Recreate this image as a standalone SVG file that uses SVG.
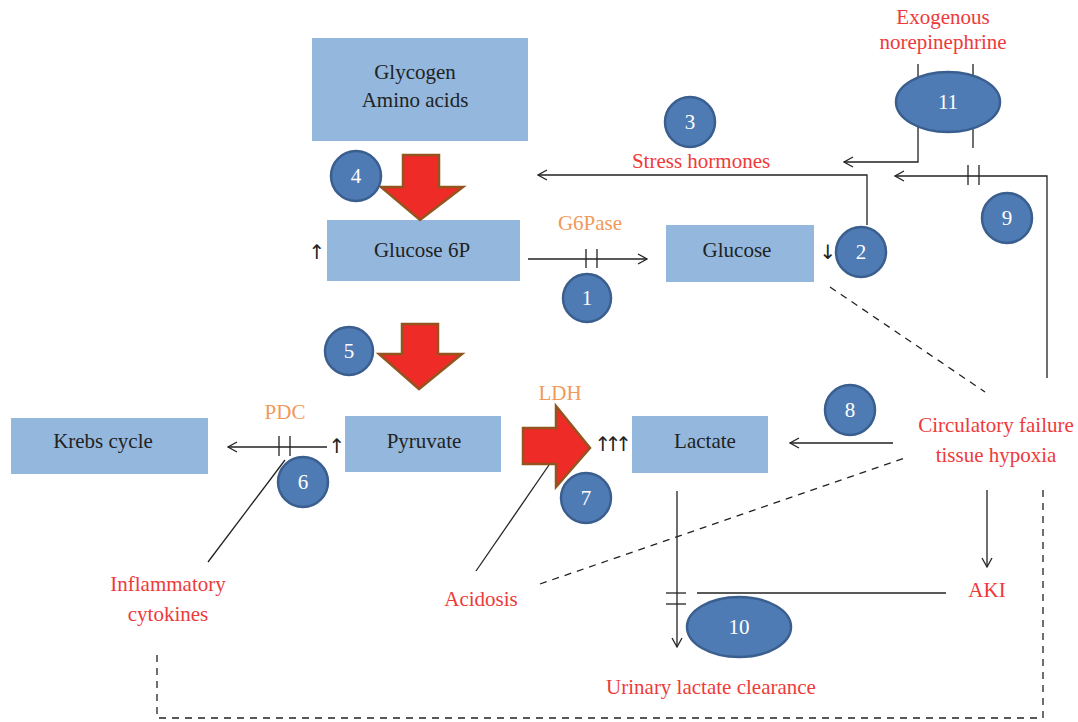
<svg xmlns="http://www.w3.org/2000/svg" width="1078" height="722" viewBox="0 0 1078 722">
<defs>
<marker id="ah" markerWidth="12" markerHeight="12" refX="10" refY="6" orient="auto" markerUnits="userSpaceOnUse">
<path d="M1,1 L10,6 L1,11" fill="none" stroke="#222" stroke-width="1.3"/>
</marker>
<style>
.box{fill:#94b8dd}
.t{font-family:"Liberation Serif",serif;font-size:21px;fill:#222;text-anchor:middle}
.a{font-family:"DejaVu Sans",sans-serif;font-size:20px;fill:#222;text-anchor:middle}
.r{font-family:"Liberation Serif",serif;font-size:21px;fill:#ee3a3a;text-anchor:middle}
.o{font-family:"Liberation Serif",serif;font-size:21px;fill:#f2995a;text-anchor:middle}
.n{font-family:"Liberation Serif",serif;font-size:21px;fill:#fff;text-anchor:middle}
.c{fill:#4f7bb4;stroke:#3a5f8f;stroke-width:2.5}
.red{fill:#ee2b27;stroke:#94541f;stroke-width:2.5}
.l{fill:none;stroke:#222;stroke-width:1.3}
.d{fill:none;stroke:#222;stroke-width:1.3;stroke-dasharray:7,6}
</style>
</defs>
<rect width="1078" height="722" fill="#fff"/>

<g id="connectors">
<line class="l" x1="528" y1="259" x2="647" y2="259" marker-end="url(#ah)"/>
<line class="l" x1="586" y1="249" x2="586" y2="268"/>
<line class="l" x1="597" y1="249" x2="597" y2="268"/>
<polyline class="l" points="867,225 867,175 538,175" marker-end="url(#ah)"/>
<line class="l" x1="918" y1="64" x2="918" y2="78"/>
<line class="l" x1="973" y1="64" x2="973" y2="78"/>
<polyline class="l" points="918,127 918,162 844,162" marker-end="url(#ah)"/>
<line class="l" x1="973" y1="128" x2="973" y2="148"/>
<polyline class="l" points="1047,378 1047,176 895,176" marker-end="url(#ah)"/>
<line class="l" x1="968" y1="165" x2="968" y2="185"/>
<line class="l" x1="979" y1="165" x2="979" y2="185"/>
<line class="l" x1="893" y1="443" x2="790" y2="443" marker-end="url(#ah)"/>
<line class="d" x1="830" y1="287" x2="985" y2="392"/>
<line class="l" x1="987" y1="490" x2="987" y2="567" marker-end="url(#ah)"/>
<polyline class="d" points="1043,490 1043,718 157,718 157,650"/>
<line class="l" x1="677" y1="491" x2="677" y2="647" marker-end="url(#ah)"/>
<line class="l" x1="666" y1="593" x2="686" y2="593"/>
<line class="l" x1="666" y1="604" x2="686" y2="604"/>
<line class="l" x1="697" y1="593" x2="946" y2="593"/>
<line class="d" x1="540" y1="584" x2="905" y2="458"/>
<line class="l" x1="476" y1="571" x2="549" y2="465"/>
<line class="l" x1="208" y1="562" x2="285" y2="460"/>
<line class="l" x1="327" y1="447" x2="228" y2="447" marker-end="url(#ah)"/>
<line class="l" x1="279" y1="436" x2="279" y2="456"/>
<line class="l" x1="290" y1="436" x2="290" y2="456"/>
</g>

<g id="glycogen"><rect class="box" x="312" y="38" width="216" height="103"/><text class="t" x="415" y="79">Glycogen</text><text class="t" x="415" y="107">Amino acids</text></g>
<g id="glucose6p"><rect class="box" x="327" y="220" width="193" height="61"/><text class="t" x="422" y="257">Glucose 6P</text></g>
<g id="glucose"><rect class="box" x="666" y="225" width="148" height="57"/><text class="t" x="737" y="257">Glucose</text></g>
<g id="krebs"><rect class="box" x="11" y="418" width="197" height="56"/><text class="t" x="103" y="448">Krebs cycle</text></g>
<g id="pyruvate"><rect class="box" x="345" y="416" width="156" height="56"/><text class="t" x="424" y="448">Pyruvate</text></g>
<g id="lactate"><rect class="box" x="632" y="416" width="136" height="57"/><text class="t" x="705" y="448">Lactate</text></g>

<g id="arrow-red-1"><polygon class="red" points="403,155 439,155 439,187 463,187 420,220 381,187 403,187"/></g>
<g id="arrow-red-2"><polygon class="red" points="402,324 438,324 438,354 462,354 419,389 379,354 402,354"/></g>
<g id="arrow-red-3"><polygon class="red" points="523,428 556,428 556,406 590,448 556,487 556,464 523,464"/></g>

<g id="c1"><circle class="c" cx="587" cy="298" r="24"/><text class="n" x="587" y="305">1</text></g>
<g id="c2"><circle class="c" cx="861" cy="252" r="25"/><text class="n" x="861" y="259">2</text></g>
<g id="c3"><circle class="c" cx="690" cy="122" r="25"/><text class="n" x="690" y="129">3</text></g>
<g id="c4"><circle class="c" cx="356" cy="176" r="25"/><text class="n" x="356" y="183">4</text></g>
<g id="c5"><circle class="c" cx="349" cy="351" r="24"/><text class="n" x="349" y="358">5</text></g>
<g id="c6"><circle class="c" cx="303" cy="482" r="25"/><text class="n" x="303" y="489">6</text></g>
<g id="c7"><circle class="c" cx="586" cy="498" r="25"/><text class="n" x="586" y="505">7</text></g>
<g id="c8"><circle class="c" cx="850" cy="410" r="25"/><text class="n" x="850" y="417">8</text></g>
<g id="c9"><circle class="c" cx="1007" cy="218" r="25"/><text class="n" x="1007" y="225">9</text></g>
<g id="c10"><ellipse class="c" cx="739" cy="627" rx="52" ry="30"/><text class="n" x="739" y="634">10</text></g>
<g id="c11"><ellipse class="c" cx="948" cy="102" rx="52" ry="30"/><text class="n" x="948" y="109">11</text></g>

<g id="labels">
<text class="r" x="943" y="24">Exogenous</text>
<text class="r" x="943" y="49">norepinephrine</text>
<text class="r" x="701" y="168">Stress hormones</text>
<text class="o" x="590" y="230">G6Pase</text>
<text class="o" x="285" y="419">PDC</text>
<text class="o" x="560" y="400">LDH</text>
<text class="a" x="317" y="259">↑&#xFE0E;</text>
<text class="a" x="828" y="259">↓&#xFE0E;</text>
<text class="a" x="337" y="453">↑&#xFE0E;</text>
<text class="a" x="610" y="451" letter-spacing="-6.5">↑&#xFE0E;↑&#xFE0E;↑&#xFE0E;</text>
<text class="r" x="996" y="432">Circulatory failure</text>
<text class="r" x="996" y="462">tissue hypoxia</text>
<text class="r" x="987" y="597">AKI</text>
<text class="r" x="711" y="694">Urinary lactate clearance</text>
<text class="r" x="481" y="606">Acidosis</text>
<text class="r" x="168" y="591">Inflammatory</text>
<text class="r" x="168" y="621">cytokines</text>
</g>
</svg>
